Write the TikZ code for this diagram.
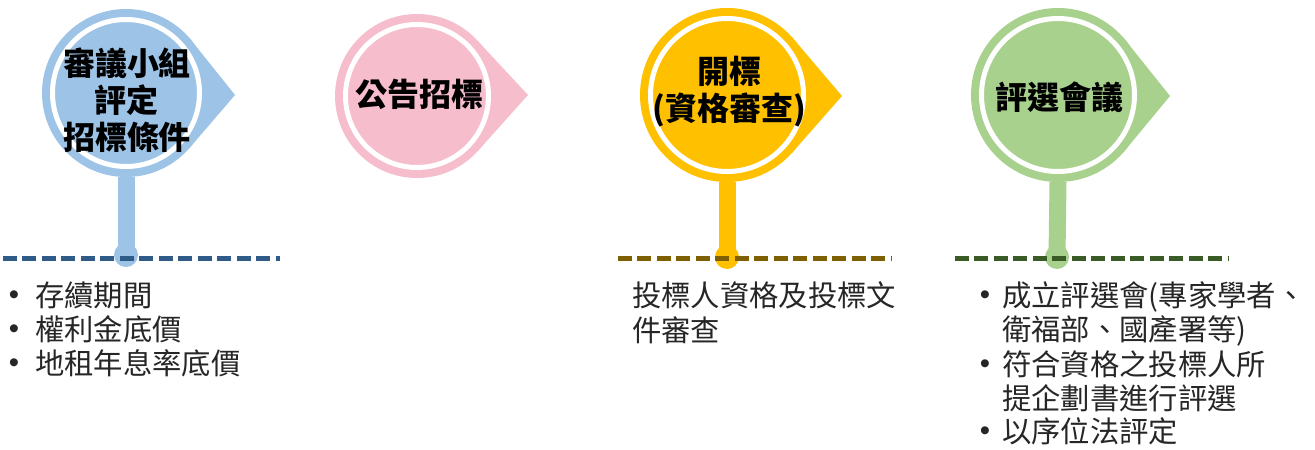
\documentclass[tikz,border=0pt]{standalone}
\usepackage{fontspec}
\setmainfont{Noto Sans CJK TC}
\newfontfamily\mybulletfont{Liberation Sans}
\definecolor{cblue}{HTML}{9DC3E6}
\definecolor{cpink}{HTML}{F6BDCD}
\definecolor{cyel}{HTML}{FFC000}
\definecolor{cgreen}{HTML}{A9D18E}
\definecolor{dblue}{HTML}{2E5B87}
\definecolor{dyel}{HTML}{7F6000}
\definecolor{dgreen}{HTML}{3A5A26}
\definecolor{txt}{HTML}{262626}
\begin{document}
\begin{tikzpicture}[x=0.75pt,y=-0.75pt,
  outerc/.style={circle, fill=#1, inner sep=0pt, outer sep=0pt},
  innerc/.style={circle, fill=#1, draw=white, line width=3.75pt, inner sep=0pt, outer sep=0pt},
  knob/.style={circle, fill=#1, inner sep=0pt, minimum size=18pt},
  stem/.style={draw=#1, line width=12.75pt},
  dashline/.style={draw=#1, line width=3.75pt, dash pattern=on 10.5pt off 4.1pt},
  titletext/.style={align=center, inner sep=0pt, text=black, font=\fontsize{24}{27.75}\selectfont\bfseries},
  body/.style={inner sep=0pt, anchor=base west, text=txt, font=\fontsize{22}{26}\selectfont},
  bullet/.style={inner sep=0pt, anchor=base, text=txt, font=\mybulletfont\fontsize{22}{26}\selectfont}]
\useasboundingbox (0,0) rectangle (1315,450);

% ---------- blue ----------
\coordinate (t1) at (235,95);
\node[outerc=cblue, minimum size=126pt] (b1) at (126,93) {};
\fill[cblue] (b1.42) -- (t1) -- (b1.-42) -- cycle;
\node[innerc=cblue, minimum size=110.25pt] (i1) at (b1.center) {};
\node[titletext] (l1) at (127,100) {審議小組\\評定\\招標條件};
\node[knob=cblue] (k1) at (126,255) {};
\draw[stem=cblue] (b1.south) -- (k1.center);
\coordinate (d1a) at (3,258);
\coordinate (d1b) at (280,258);
\draw[dashline=dblue] (d1a) -- (d1b);
\node[bullet] (p1a) at (14,304) {•};
\node[body] (q1a) at (35,306) {存續期間};
\node[bullet] (p1b) at (14,338) {•};
\node[body] (q1b) at (35,340) {權利金底價};
\node[bullet] (p1c) at (14,372) {•};
\node[body] (q1c) at (35,374) {地租年息率底價};

% ---------- pink ----------
\coordinate (t2) at (528,95);
\node[outerc=cpink, minimum size=123pt] (b2) at (417,96) {};
\fill[cpink] (b2.42) -- (t2) -- (b2.-42) -- cycle;
\node[innerc=cpink, minimum size=107.25pt] (i2) at (b2.center) {};
\node[titletext] (l2) at (419,94) {公告招標};

% ---------- yellow ----------
\coordinate (t3) at (842,96);
\node[outerc=cyel, minimum size=130.5pt] (b3) at (727,95) {};
\fill[cyel] (b3.42) -- (t3) -- (b3.-42) -- cycle;
\node[innerc=cyel, minimum size=114.75pt] (i3) at (b3.center) {};
\node[titletext] (l3) at (729,92) {開標\\(資格審查)};
\node[knob=cyel] (k3) at (727,257) {};
\draw[stem=cyel] (b3.south) -- (k3.center);
\coordinate (d3a) at (618,258);
\coordinate (d3b) at (892,258);
\draw[dashline=dyel] (d3a) -- (d3b);
\node[body] (q3a) at (632,306) {投標人資格及投標文};
\node[body] (q3b) at (632,341) {件審查};

% ---------- green ----------
\coordinate (t4) at (1170,96);
\node[outerc=cgreen, minimum size=130.5pt] (b4) at (1058,95) {};
\fill[cgreen] (b4.42) -- (t4) -- (b4.-42) -- cycle;
\node[innerc=cgreen, minimum size=114.75pt] (i4) at (b4.center) {};
\node[titletext] (l4) at (1059,97) {評選會議};
\node[knob=cgreen] (k4) at (1057,257) {};
\draw[stem=cgreen] (b4.south) -- (k4.center);
\coordinate (d4a) at (955,258);
\coordinate (d4b) at (1229,258);
\draw[dashline=dgreen] (d4a) -- (d4b);
\node[bullet] (p4a) at (985,304) {•};
\node[body] (q4a) at (1002,306) {成立評選會(專家學者、};
\node[body] (q4b) at (1002,340) {衛福部、國產署等)};
\node[bullet] (p4c) at (985,373) {•};
\node[body] (q4c) at (1002,375) {符合資格之投標人所};
\node[body] (q4d) at (1002,409) {提企劃書進行評選};
\node[bullet] (p4e) at (985,440) {•};
\node[body] (q4e) at (1002,442) {以序位法評定};
\end{tikzpicture}
\end{document}
